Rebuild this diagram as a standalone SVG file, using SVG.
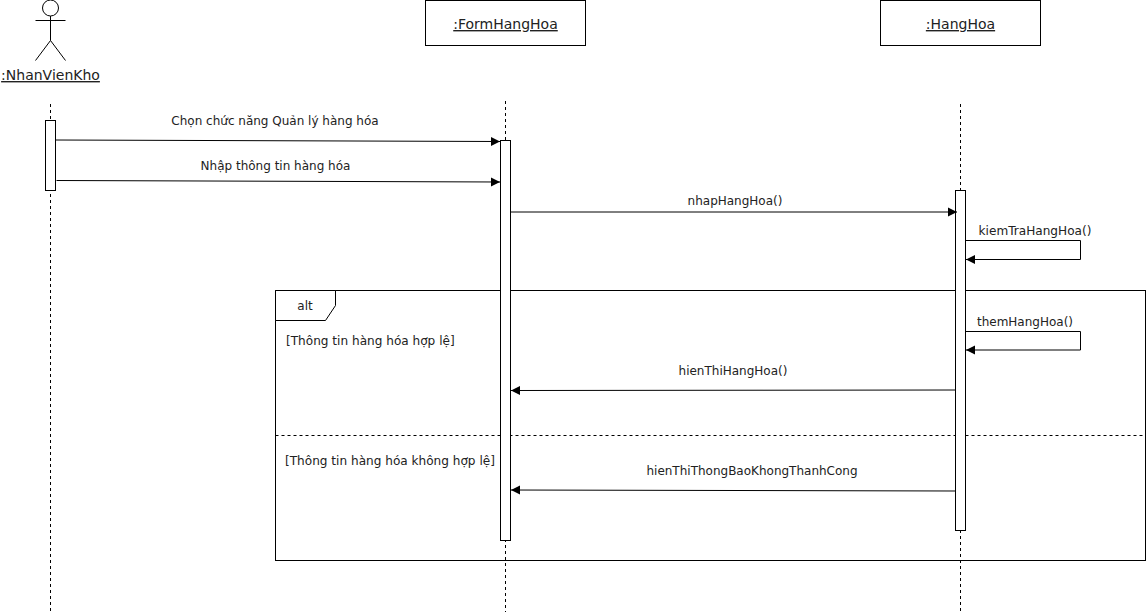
<svg xmlns="http://www.w3.org/2000/svg" width="1147" height="613" viewBox="0 0 1147 613">
<style>
text{font-family:"DejaVu Sans",Verdana,sans-serif;font-size:12px;fill:#222;text-anchor:middle}
.t{font-size:14px;text-decoration:underline}
.l{text-anchor:start;font-size:12.1px}
.s{fill:none;stroke:#000;stroke-width:1}
.b{fill:#fff;stroke:#000;stroke-width:1}
.d{fill:none;stroke:#000;stroke-width:1;stroke-dasharray:3 3}
.a{fill:none;stroke:#000;stroke-width:1;marker-end:url(#m)}
</style>
<defs><marker id="m" markerUnits="userSpaceOnUse" markerWidth="10" markerHeight="11" refX="9" refY="5" orient="auto"><path d="M0 0.500L9 5L0 9.500Z" fill="#000"/></marker></defs>
<rect width="1147" height="613" fill="#fff"/>
<g id="lifelines">
<path class="d" d="M50.500 104V612"/>
<path class="d" d="M505.500 101V612"/>
<path class="d" d="M960.500 104V612"/>
</g>
<g id="frame-alt">
<rect class="s" x="275.500" y="290.500" width="870" height="270"/>
<path class="b" d="M275.500 290.500H335.500V305.500L325.500 320.500H275.500Z"/>
<text x="305" y="310">alt</text>
<path class="d" d="M275.500 435.500H1145.500"/>
<text class="l" x="286" y="345">[Thông tin hàng hóa hợp lệ]</text>
<text class="l" x="285" y="465">[Thông tin hàng hóa không hợp lệ]</text>
</g>
<g id="actor-nhanvienkho">
<circle class="b" cx="50.500" cy="8" r="8"/>
<path class="s" d="M50.500 16V40.500M35.500 20.500H65.500M50.500 40.500L35.500 60.500M50.500 40.500L65.500 60.500"/>
<text class="t" x="50.500" y="80">:NhanVienKho</text>
</g>
<g id="node-formhanghoa">
<rect class="b" x="425.500" y="0.500" width="160" height="45"/>
<text class="t" x="505.500" y="29">:FormHangHoa</text>
</g>
<g id="node-hanghoa">
<rect class="b" x="880.500" y="0.500" width="160" height="45"/>
<text class="t" x="960.500" y="29">:HangHoa</text>
</g>
<g id="activations">
<rect class="b" x="45.500" y="120.500" width="10" height="70"/>
<rect class="b" x="500.500" y="140.500" width="10" height="400"/>
<rect class="b" x="955.500" y="190.500" width="10" height="340"/>
</g>
<g id="connectors">
<path class="a" d="M55.500 140L500 141.500"/>
<path class="a" d="M56.500 180.500L500 182"/>
<path class="a" d="M510.500 212H957"/>
<path class="a" d="M965.500 240.500H1080.500V259.500H966"/>
<path class="a" d="M965.500 331.500H1080.500V350H966"/>
<path class="a" d="M955.500 390L511 390.500"/>
<path class="a" d="M955.500 491L511 490"/>
</g>
<g id="labels">
<text x="275" y="125">Chọn chức năng Quản lý hàng hóa</text>
<text x="275.500" y="170">Nhập thông tin hàng hóa</text>
<text x="735" y="205">nhapHangHoa()</text>
<text x="1035" y="235" style="font-size:12.1px">kiemTraHangHoa()</text>
<text x="1025" y="326">themHangHoa()</text>
<text x="733" y="375">hienThiHangHoa()</text>
<text x="752" y="475">hienThiThongBaoKhongThanhCong</text>
</g>
</svg>
